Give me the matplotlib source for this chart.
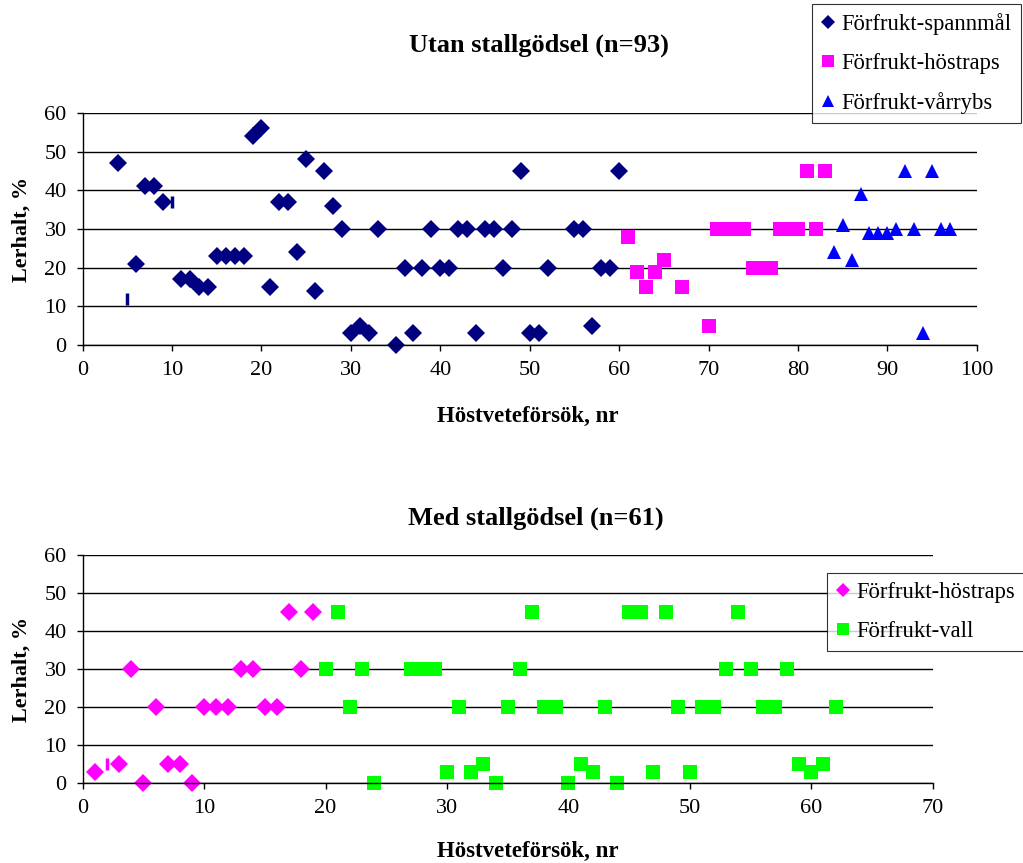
import matplotlib.pyplot as plt

plt.rcParams['font.family'] = ['Liberation Serif', 'DejaVu Serif']

# --- Utan stallgödsel (n=93) ---
spannmal_x = [4, 6, 7, 8, 9, 11, 12, 13, 14, 15, 16, 17, 18, 19, 20, 21, 22, 23, 24, 25,
              26, 27, 28, 29, 30, 31, 32, 33, 35, 36, 37, 38, 39, 40, 41, 42, 43, 44, 45, 46,
              47, 48, 49, 50, 51, 52, 55, 56, 57, 58, 59, 60]
spannmal_y = [47, 21, 41, 41, 37, 17, 17, 15, 15, 23, 23, 23, 23, 54, 56, 15, 37, 37, 24, 48,
              14, 45, 36, 30, 3, 5, 3, 30, 0, 20, 3, 20, 30, 20, 20, 30, 30, 3, 30, 30,
              20, 30, 45, 3, 3, 20, 30, 30, 5, 20, 20, 45]
spannmal_bar_x = [5, 10]
spannmal_bar_y = [12, 37]

hostraps1_x = [61, 62, 63, 64, 65, 67, 70, 71, 72, 73, 74, 75, 76, 77, 78, 79, 80, 81, 82, 83]
hostraps1_y = [28, 19, 15, 19, 22, 15, 5, 30, 30, 30, 30, 20, 20, 20, 30, 30, 30, 45, 30, 45]

varrybs_x = [84, 85, 86, 87, 88, 89, 90, 91, 92, 93, 94, 95, 96, 97]
varrybs_y = [24, 31, 22, 39, 29, 29, 29, 30, 45, 30, 3, 45, 30, 30]

# --- Med stallgödsel (n=61) ---
hostraps2_x = [1, 3, 4, 5, 6, 7, 8, 9, 10, 11, 12, 13, 14, 15, 16, 17, 18, 19]
hostraps2_y = [3, 5, 30, 0, 20, 5, 5, 0, 20, 20, 20, 30, 30, 20, 20, 45, 30, 45]
hostraps2_bar_x = [2]
hostraps2_bar_y = [5]

vall_x = [20, 21, 22, 23, 24, 27, 28, 29, 30, 31, 32, 33, 34, 35, 36, 37, 38, 39, 40, 41,
          42, 43, 44, 45, 46, 47, 48, 49, 50, 51, 52, 53, 54, 55, 56, 57, 58, 59, 60, 61, 62]
vall_y = [30, 45, 20, 30, 0, 30, 30, 30, 3, 20, 3, 5, 0, 20, 30, 45, 20, 20, 0, 5,
          3, 20, 0, 45, 45, 3, 45, 20, 3, 20, 20, 30, 45, 30, 20, 20, 30, 5, 3, 5, 20]

NAVY = '#000080'
MAGENTA = '#FF00FF'
BLUE = '#0000FF'
GREEN = '#00FF00'

TICK_FS = 16
LEG_FS = 16.3


def style_axes(ax, xmax):
    ax.set_xlim(0, xmax)
    ax.set_ylim(0, 60)
    ax.set_xticks(range(0, xmax + 1, 10))
    ax.set_yticks(range(0, 61, 10))
    for s in ['top', 'right']:
        ax.spines[s].set_visible(False)
    for s in ['left', 'bottom']:
        ax.spines[s].set_color('black')
        ax.spines[s].set_linewidth(1.0)
    ax.yaxis.grid(True, color='black', linewidth=1.0)
    ax.set_axisbelow(True)
    ax.tick_params(direction='out', length=4.5, width=1.0, labelsize=TICK_FS, pad=7)
    ax.set_ylabel('Lerhalt, %', fontsize=16, fontweight='bold', labelpad=9)


def add_legend(owner, x_px, y_px):
    leg = owner.legend(loc='upper left', bbox_to_anchor=(x_px / 1023, 1 - y_px / 863),
                       bbox_transform=fig.transFigure,
                       fontsize=LEG_FS, frameon=True, fancybox=False, handlelength=0.6,
                       handletextpad=0.3, labelspacing=0.8, borderpad=0.4,
                       borderaxespad=0, markerscale=0.8)
    leg.get_frame().set_edgecolor('black')
    leg.get_frame().set_linewidth(0.8)
    return leg


fig = plt.figure(figsize=(10.23, 8.63), dpi=100)

# top chart
ax1 = fig.add_axes([0.0808, 0.6002, 0.874, 0.269])
style_axes(ax1, 100)
ax1.plot(spannmal_x, spannmal_y, 'D', color=NAVY, ms=9.5, mew=0, clip_on=False,
         label='Förfrukt-spannmål')
ax1.plot(hostraps1_x, hostraps1_y, 's', color=MAGENTA, ms=10, mew=0, clip_on=False,
         label='Förfrukt-höstraps')
ax1.plot(varrybs_x, varrybs_y, '^', color=BLUE, ms=10, mew=0, clip_on=False,
         label='Förfrukt-vårrybs')
ax1.plot(spannmal_bar_x, spannmal_bar_y, '|', color=NAVY, ms=9, mew=2.5, clip_on=False)
fig.text(0.527, 1 - 45 / 863, 'Utan stallgödsel (n=93)', ha='center', va='center',
         fontsize=19, fontweight='bold')
fig.text(0.516, 1 - 416 / 863, 'Höstveteförsök, nr', ha='center', va='center',
         fontsize=16.5, fontweight='bold')
add_legend(fig, 812, 4)

# bottom chart
ax2 = fig.add_axes([0.0808, 0.0927, 0.831, 0.2642])
style_axes(ax2, 70)
ax2.plot(hostraps2_x, hostraps2_y, 'D', color=MAGENTA, ms=9.5, mew=0, clip_on=False,
         label='Förfrukt-höstraps')
ax2.plot(vall_x, vall_y, 's', color=GREEN, ms=10, mew=0, clip_on=False,
         label='Förfrukt-vall')
ax2.plot(hostraps2_bar_x, hostraps2_bar_y, '|', color=MAGENTA, ms=9, mew=2.5, clip_on=False)
fig.text(0.524, 1 - 518 / 863, 'Med stallgödsel (n=61)', ha='center', va='center',
         fontsize=19, fontweight='bold')
fig.text(0.516, 1 - 851 / 863, 'Höstveteförsök, nr', ha='center', va='center',
         fontsize=16.5, fontweight='bold')
add_legend(ax2, 827, 573)

fig.savefig('out.png', dpi=100)
